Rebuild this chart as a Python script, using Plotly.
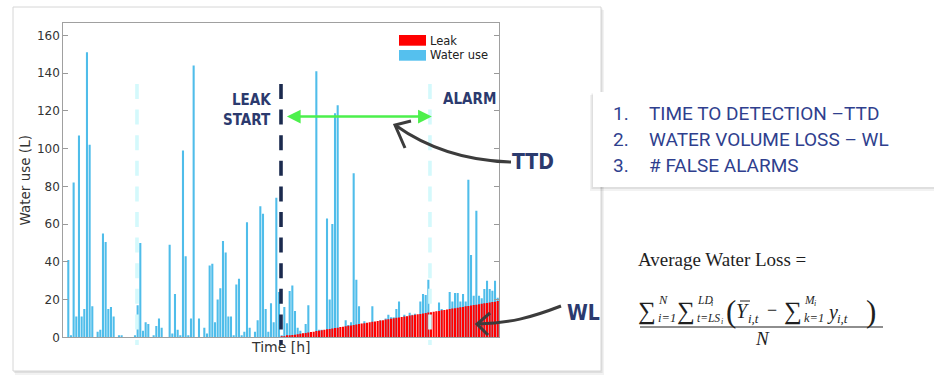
import plotly.graph_objects as go

# ---------------- data ----------------
water_use = [
    41, 1, 82, 11, 107, 11, 15, 151, 102, 16.5,
    0, 3, 4, 55, 50.5, 15, 16, 11, 0, 1,
    1, 0, 0, 0, 0, 1, 17, 50, 3.5, 8,
    7, 0, 1, 6, 10, 5, 0, 0, 49, 2,
    23, 4, 1, 99, 43, 1, 10, 144, 0, 10,
    0, 5, 2, 38, 39, 8, 20, 26, 51, 45,
    11, 11, 1, 28, 31, 1, 3, 61, 5, 0,
    3, 9, 69.5, 65.5, 15, 3, 18, 8, 74, 24,
    1, 16, 7.5, 24.5, 27.5, 14, 5, 3.5, 2, 7,
    17, 0, 0, 141, 4, 4, 0, 63, 20, 60,
    118.7, 123, 0, 0, 9, 6.5, 8, 87, 30.5, 16.5,
    0, 8.5, 0, 0, 16.5, 0, 0, 9, 0, 10,
    12, 10.6, 10.6, 15, 19, 0, 12, 11, 13, 12,
    12.5, 0, 19, 23, 22.4, 30.5, 0, 0, 0, 18.5,
    15, 0, 0, 24, 19, 23.5, 23.5, 19, 23, 19,
    83.5, 43.6, 22, 67, 22, 20.7, 25.6, 30, 25.6, 24.7,
    30, 21, 33,
]
leak_start_index = 80
leak = [
    0.2, 0.4, 0.7, 0.9, 1.2, 1.4, 1.6, 1.9, 2.1, 2.3,
    2.6, 2.8, 3.0, 3.3, 3.5, 3.7, 4.0, 4.2, 4.4, 4.7,
    4.9, 5.1, 5.4, 5.6, 5.8, 6.1, 6.3, 6.5, 6.8, 7.0,
    7.3, 7.5, 7.7, 8.0, 8.2, 8.4, 8.7, 8.9, 9.1, 9.4,
    9.6, 9.8, 10.1, 10.3, 10.5, 10.8, 11.0, 11.2, 11.5, 11.7,
    11.9, 12.2, 12.4, 12.6, 12.9, 13.1, 13.3, 13.6, 13.8, 14.0,
    14.3, 14.5, 14.7, 15.0, 15.2, 15.4, 15.7, 15.9, 16.1, 16.4,
    16.6, 16.8, 17.1, 17.3, 17.5, 17.8, 18.0, 18.2, 18.5, 18.7,
    18.9, 19.2, 19.4,
]
hours = list(range(len(water_use)))
leak_hours = hours[leak_start_index:leak_start_index + len(leak)]
y_ticks = [0, 20, 40, 60, 80, 100, 120, 140, 160]

# event markers (hours) and TTD arrow level (litres)
marker_hour = 25.75
leak_start_hour = 79.75
alarm_hour = 135.6
ttd_level = 117

metrics = ["TIME TO DETECTION \u2013TTD", "WATER VOLUME LOSS \u2013 WL", "# FALSE ALARMS"]

# ---------------- layout helpers ----------------
W, H = 934, 381


def X(p):
    return p / W


def Y(p):
    return 1 - p / H


NAVY = "#2b3a6e"
BLUE_TXT = "#2f3f8e"
BAR_BLUE = "#4fbdea"

fig = go.Figure()
fig.add_trace(go.Bar(x=hours, y=water_use, name="Water use",
                     marker=dict(color=BAR_BLUE, line=dict(width=0))))
fig.add_trace(go.Bar(x=leak_hours, y=leak, name="Leak",
                     marker=dict(color="#ff0000", line=dict(width=0))))

shapes = []
annotations = []

# chart frame with soft shadow
shapes += [
    dict(type="rect", xref="paper", yref="paper", x0=X(15), x1=X(604), y0=Y(10), y1=Y(375),
         fillcolor="rgba(0,0,0,0.05)", line=dict(width=0), layer="below"),
    dict(type="rect", xref="paper", yref="paper", x0=X(14), x1=X(602.5), y0=Y(8.5), y1=Y(373),
         fillcolor="rgba(0,0,0,0.08)", line=dict(width=0), layer="below"),
    dict(type="rect", xref="paper", yref="paper", x0=X(13), x1=X(601), y0=Y(7), y1=Y(371),
         fillcolor="white", line=dict(color="#d6d6d6", width=1), layer="below"),
]

# right text box with shadow
shapes += [
    dict(type="rect", xref="paper", yref="paper", x0=X(590), x1=X(934), y0=Y(95), y1=Y(191),
         fillcolor="rgba(0,0,0,0.05)", line=dict(width=0), layer="below"),
    dict(type="rect", xref="paper", yref="paper", x0=X(591.5), x1=X(934), y0=Y(93.5), y1=Y(189),
         fillcolor="rgba(0,0,0,0.08)", line=dict(width=0), layer="below"),
    dict(type="rect", xref="paper", yref="paper", x0=X(593), x1=X(934), y0=Y(92), y1=Y(187),
         fillcolor="white", line=dict(width=0), layer="below"),
]

# dashed event lines
dash = "15px,10.6px"
for hx, col, w in [(marker_hour, "#d4f9fc", 3.6), (alarm_hour, "#d4f9fc", 3.6),
                   (leak_start_hour, "#1b2a4e", 3.6)]:
    shapes.append(dict(type="line", xref="x", yref="paper", x0=hx, x1=hx, y0=Y(84), y1=Y(345),
                       line=dict(color=col, width=w, dash=dash), layer="above"))

# custom legend swatches
shapes += [
    dict(type="rect", xref="paper", yref="paper", x0=X(399), x1=X(426), y0=Y(35), y1=Y(45.7),
         fillcolor="#ff0000", line=dict(width=0)),
    dict(type="rect", xref="paper", yref="paper", x0=X(399), x1=X(426), y0=Y(50), y1=Y(60.7),
         fillcolor="#55c0ee", line=dict(width=0)),
]
annotations += [
    dict(text="Leak", x=X(428), y=Y(40.5), xref="paper", yref="paper", xanchor="left",
         yanchor="middle", showarrow=False, font=dict(family="DejaVu Sans", size=11.5, color="#222")),
    dict(text="Water use", x=X(428), y=Y(55.5), xref="paper", yref="paper", xanchor="left",
         yanchor="middle", showarrow=False, font=dict(family="DejaVu Sans", size=11.5, color="#222")),
]


def path(points):
    (x0, y0), rest = points[0], points[1:]
    return f"M {X(x0)},{Y(y0)} C " + " ".join(f"{X(a)},{Y(b)}" for a, b in rest)


def pline(points):
    return "M " + " L ".join(f"{X(a)},{Y(b)}" for a, b in points)


ARROW_GRAY = "#3c3c3c"
shapes += [
    # TTD curved arrow
    dict(type="path", xref="paper", yref="paper",
         path=path([(511, 162), (470, 161), (430, 150), (395, 125)]),
         line=dict(color=ARROW_GRAY, width=3)),
    dict(type="path", xref="paper", yref="paper",
         path=pline([(411, 121), (395, 125), (405, 148)]),
         line=dict(color=ARROW_GRAY, width=3)),
    # WL curved arrow
    dict(type="path", xref="paper", yref="paper",
         path=path([(561, 306), (530, 318), (510, 323), (478, 324)]),
         line=dict(color=ARROW_GRAY, width=3)),
    dict(type="path", xref="paper", yref="paper",
         path=pline([(490, 313), (477, 324), (488, 335)]),
         line=dict(color=ARROW_GRAY, width=3)),
]

COND = "DejaVu Sans Condensed, Liberation Sans Narrow, Roboto Condensed, Roboto, sans-serif"
for txt, xx, yy, anc in [("LEAK", 273, 100, "right"), ("START", 273, 120, "right"),
                         ("ALARM", 441, 99, "left")]:
    annotations.append(dict(text=f"<b>{txt}</b>", x=X(xx), y=Y(yy), xref="paper", yref="paper",
                            xanchor=anc, yanchor="middle", showarrow=False,
                            font=dict(family=COND, size=15, color=NAVY)))
for txt, xx, yy in [("TTD", 510, 162), ("WL", 565, 313)]:
    annotations.append(dict(text=f"<b>{txt}</b>", x=X(xx), y=Y(yy), xref="paper", yref="paper",
                            xanchor="left", yanchor="middle", showarrow=False,
                            font=dict(family=COND, size=21, color=NAVY)))

# TTD double arrow
annotations.append(dict(x=136.3, y=ttd_level, ax=81.4, ay=ttd_level, xref="x", yref="y",
                        axref="x", ayref="y", text="", showarrow=True, arrowhead=2,
                        startarrowhead=2, arrowside="end+start", arrowsize=1.1,
                        startarrowsize=1.1, arrowwidth=2.5, arrowcolor="#4cf04c"))

# metrics list
for k, (label, yy) in enumerate(zip(metrics, [113.5, 139.5, 165.5])):
    annotations.append(dict(text=f"{k + 1}.", x=X(611), y=Y(yy), xref="paper", yref="paper",
                            xanchor="left", yanchor="middle", showarrow=False,
                            font=dict(family="Roboto", size=19, color=BLUE_TXT)))
    annotations.append(dict(text=label, x=X(647), y=Y(yy), xref="paper", yref="paper",
                            xanchor="left", yanchor="middle", showarrow=False,
                            font=dict(family="Roboto", size=19, color=BLUE_TXT)))

# formula
SERIF = "Liberation Serif"
FC = "#1e1e1e"


def fa(text, x, y, size, anchor="left", italic=False):
    annotations.append(dict(text=text, x=X(x), y=Y(y), xref="paper", yref="paper",
                            xanchor=anchor, yanchor="middle", showarrow=False,
                            borderpad=0, borderwidth=0,
                            font=dict(family=SERIF, size=size, color=FC,
                                      style="italic" if italic else "normal")))


fa("Average Water Loss =", 638, 259, 19)
fa("\u2211", 638, 311, 25)
fa("N", 658, 300, 12.5, italic=True)
fa("i=1", 658, 318, 12.5, italic=True)
fa("\u2211", 677, 311, 25)
fa("LD", 697, 300, 11.5, italic=True)
fa("i", 711, 303, 8, italic=True)
fa("t=LS", 697, 318, 11.5, italic=True)
fa("i", 721, 321, 8, italic=True)
fa("(", 726, 311, 31)
fa("Y", 736, 311, 20, italic=True)
fa("i,t", 748, 318, 13, italic=True)
fa("\u2212", 767, 310, 18)
fa("\u2211", 784, 311, 25)
fa("M", 804, 300, 11.5, italic=True)
fa("i", 814, 303, 8, italic=True)
fa("k=1", 804, 318, 12.5, italic=True)
fa("y", 827, 312, 20, italic=True)
fa("i,t", 837, 318, 13, italic=True)
fa(")", 866, 311, 31)
fa("N", 762, 338, 19, anchor="center", italic=True)
shapes += [
    dict(type="line", xref="paper", yref="paper", x0=X(740), x1=X(750), y0=Y(301), y1=Y(301),
         line=dict(color=FC, width=1)),
    dict(type="line", xref="paper", yref="paper", x0=X(640), x1=X(883), y0=Y(327), y1=Y(327),
         line=dict(color=FC, width=1.2)),
]

fig.update_layout(
    width=W, height=H, autosize=False,
    margin=dict(l=0, r=0, t=0, b=0, pad=0),
    paper_bgcolor="white", plot_bgcolor="rgba(0,0,0,0)",
    barmode="overlay", bargap=0.22, showlegend=False,
    shapes=shapes, annotations=annotations,
    font=dict(family="DejaVu Sans", color="#333"),
    xaxis=dict(domain=[X(63.3), X(499.3)], range=[-1.875, 161.6], showticklabels=False,
               ticks="", showgrid=False, zeroline=False, showline=True, linecolor="#a0a0a0",
               linewidth=1, mirror=True, automargin=False,
               title=dict(text="Time [h]", standoff=4, font=dict(size=14, color="#333"))),
    yaxis=dict(domain=[Y(337.3), Y(23.3)], range=[0, 166.4], tickvals=y_ticks,
               ticks="inside", ticklen=5, tickcolor="#999", showgrid=False, zeroline=False,
               showline=True, linecolor="#a0a0a0", linewidth=1, mirror="ticks",
               automargin=False, tickfont=dict(size=12, color="#333"),
               title=dict(text="Water use (L)", standoff=3, font=dict(size=13.5, color="#333"))),
)

fig.write_html("out.html", config={"displayModeBar": False},
               post_script="document.body.style.margin='0px';"
               "document.body.style.overflow='hidden';")
